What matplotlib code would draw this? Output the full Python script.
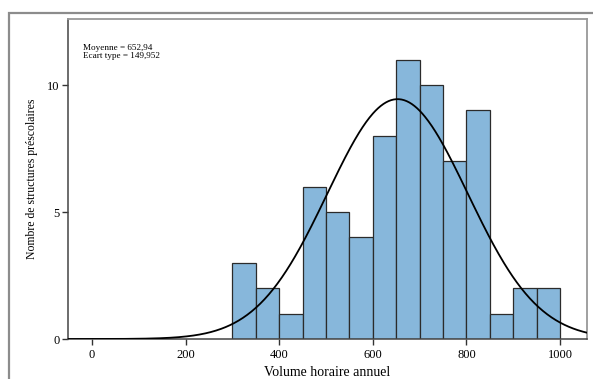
import numpy as np
import matplotlib
matplotlib.use("Agg")
import matplotlib.pyplot as plt
from matplotlib.patches import Rectangle

# Histogram of annual hours per preschool structure (bins of 50 h)
bin_edges = [300, 350, 400, 450, 500, 550, 600, 650, 700, 750, 800, 850, 900, 950, 1000]
counts = [3, 2, 1, 6, 5, 4, 8, 11, 10, 7, 9, 1, 2, 2]
mean_val = 652.94
std_val = 149.952
x_ticks = [0, 200, 400, 600, 800, 1000]
y_ticks = [0, 5, 10]

plt.rcParams["font.family"] = ["Liberation Serif", "DejaVu Serif"]

fig = plt.figure(figsize=(5.93, 3.79), dpi=100)
ax = fig.add_axes([68 / 593, 40 / 379, (587 - 68) / 593, (339 - 19) / 379])

# outer frame like the SPSS chart border
fig.add_artist(Rectangle((9 / 593, -0.1), 1.2, 1 - 13 / 379 + 0.1, transform=fig.transFigure,
                         fill=False, edgecolor="#8c8c8c", linewidth=1.6))

lefts = np.array(bin_edges[:-1])
widths = np.diff(bin_edges)
ax.bar(lefts, counts, width=widths, align="edge", color="#87b7db",
       edgecolor="#2b2b2b", linewidth=0.9, zorder=2)

# fitted normal curve scaled to counts
n = sum(counts)
bw = widths[0]
xs = np.linspace(-52, 1058, 600)
ys = n * bw * np.exp(-0.5 * ((xs - mean_val) / std_val) ** 2) / (std_val * np.sqrt(2 * np.pi))
ax.plot(xs, ys, color="black", linewidth=1.3, zorder=3)

ax.set_xlim(-51.3, 1057.7)
ax.set_ylim(0, 12.6)
ax.set_xticks(x_ticks)
ax.set_yticks(y_ticks)
ax.tick_params(direction="out", length=4, width=1, colors="#333333", labelsize=9,
               labelcolor="black")
ax.tick_params(axis="y", pad=2)
for side in ["left", "bottom"]:
    ax.spines[side].set_color("#444444")
    ax.spines[side].set_linewidth(1.1)
for side in ["top", "right"]:
    ax.spines[side].set_color("#999999")
    ax.spines[side].set_linewidth(1.3)

ax.set_xlabel("Volume horaire annuel", fontsize=10, labelpad=3)
ax.set_ylabel("Nombre de structures préscolaires", fontsize=8.5)
ax.yaxis.set_label_coords(-0.057, 0.5)

ax.text(0.029, 0.922, "Moyenne = 652,94\nEcart type = 149,952", transform=ax.transAxes,
        fontsize=6.6, va="top", ha="left", linespacing=0.95)

fig.savefig("out.png", dpi=100)
